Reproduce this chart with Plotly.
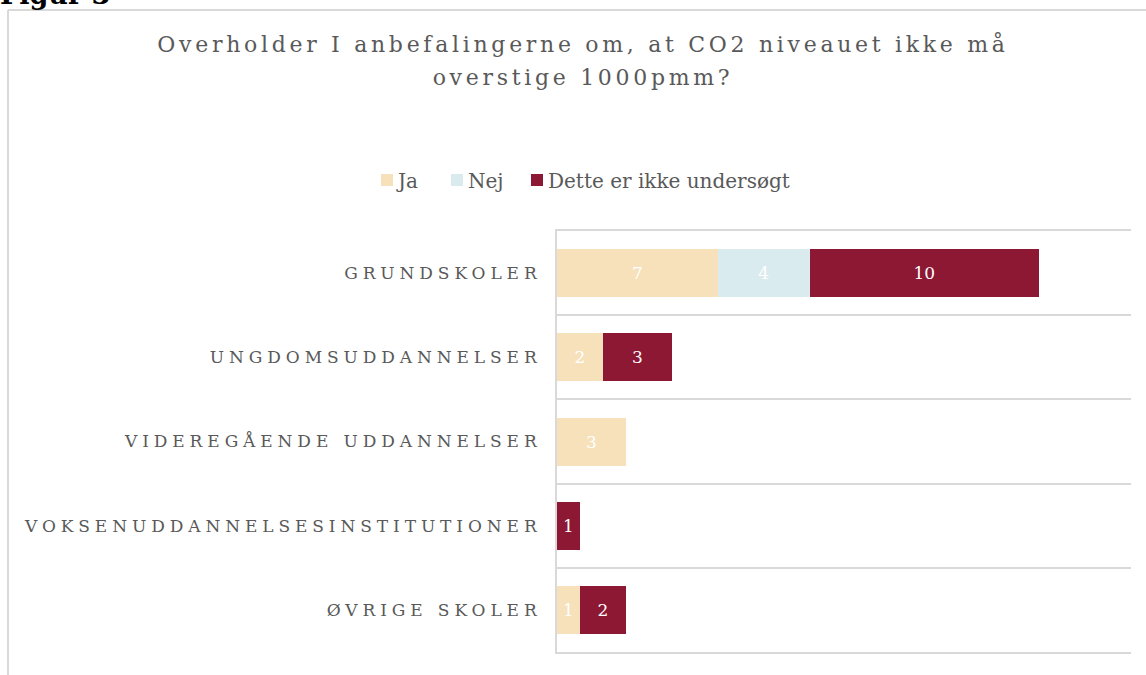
import plotly.graph_objects as go

categories = ["GRUNDSKOLER", "UNGDOMSUDDANNELSER", "VIDEREGÅENDE UDDANNELSER",
              "VOKSENUDDANNELSESINSTITUTIONER", "ØVRIGE SKOLER"]
ja = [7, 2, 3, 0, 1]
nej = [4, 0, 0, 0, 0]
ikke = [10, 3, 0, 1, 2]

series = [
    ("Ja", ja, "#F6E1BA", 25),
    ("Nej", nej, "#D9EBEE", 35),
    ("Dette er ikke undersøgt", ikke, "#8C1833", None),
]

FONT = "DejaVu Serif"
GRAY = "#595959"
LINE = "#d9d9d9"

W, H = 1146, 675
L, R, T, B = 557, 15, 231, 23
pw, ph = W - L - R, H - T - B

fig = go.Figure()
for name, vals, col, lw in series:
    kw = {}
    if lw:
        kw["legendwidth"] = lw
    fig.add_trace(go.Bar(
        y=categories, x=vals, name=name, orientation="h",
        marker=dict(color=col, line=dict(width=0)),
        text=[str(v) if v else "" for v in vals],
        textposition="inside", insidetextanchor="middle", textangle=0,
        textfont=dict(family=FONT, size=17, color="white"),
        hoverinfo="skip", **kw,
    ))

def px_x(px):
    return (px - L) / pw

def px_y(py):
    return 1 - (py - T) / ph

fig.update_layout(
    width=W, height=H,
    barmode="stack", bargap=0.43,
    margin=dict(l=L, r=R, t=T, b=B),
    paper_bgcolor="white", plot_bgcolor="white",
    font=dict(family=FONT, color=GRAY),
    title=dict(
        text="Overholder I anbefalingerne om, at CO2 niveauet ikke må<br>overstige 1000pmm?",
        xref="container", x=583 / W, xanchor="center",
        yref="container", y=1 - 52 / H, yanchor="top",
        font=dict(family=FONT, size=22, color=GRAY),
    ),
    legend=dict(
        orientation="h", xref="container", yref="container",
        x=367 / W, xanchor="left", y=1 - 180 / H, yanchor="middle",
        font=dict(family=FONT, size=20, color=GRAY),
        traceorder="normal", itemwidth=30,
    ),
    xaxis=dict(range=[0, 25], showgrid=False, zeroline=False,
               showticklabels=False, showline=True, mirror=True,
               linecolor=LINE, linewidth=2, fixedrange=True),
    yaxis=dict(
        autorange="reversed", showline=True, linecolor=LINE, linewidth=2,
        showgrid=True, gridcolor=LINE, gridwidth=2, tickson="boundaries",
        ticks="", ticklabelstandoff=10, fixedrange=True,
        tickfont=dict(family=FONT, size=17, color=GRAY),
    ),
    shapes=[
        dict(type="line", xref="paper", yref="paper",
             x0=px_x(8), x1=px_x(8), y0=px_y(700), y1=px_y(10),
             line=dict(color=LINE, width=2)),
        dict(type="line", xref="paper", yref="paper",
             x0=px_x(8), x1=px_x(1200), y0=px_y(10), y1=px_y(10),
             line=dict(color=LINE, width=2)),
    ],
    annotations=[
        dict(text="<b>Figur 3</b>", xref="paper", yref="paper",
             x=px_x(-2), xanchor="left", y=px_y(12), yanchor="bottom",
             showarrow=False, font=dict(family=FONT, size=27, color="black")),
    ],
)

post = """
document.body.style.margin = '0';
var gd = document.getElementById('{plot_id}');
gd.querySelectorAll('.ytick text').forEach(function(t){ t.style.letterSpacing = '4.9px'; });
gd.querySelectorAll('.gtitle').forEach(function(t){ t.style.letterSpacing = '3.7px'; });
gd.querySelectorAll('.gtitle tspan.line').forEach(function(t, i){
  if (i > 0) { t.setAttribute('dy', '1.5em'); }
});
gd.querySelectorAll('.legendtext').forEach(function(t){
  t.setAttribute('x', parseFloat(t.getAttribute('x')) - 9);
});
"""

fig.write_html("out.html", post_script=post, config={"displayModeBar": False})
